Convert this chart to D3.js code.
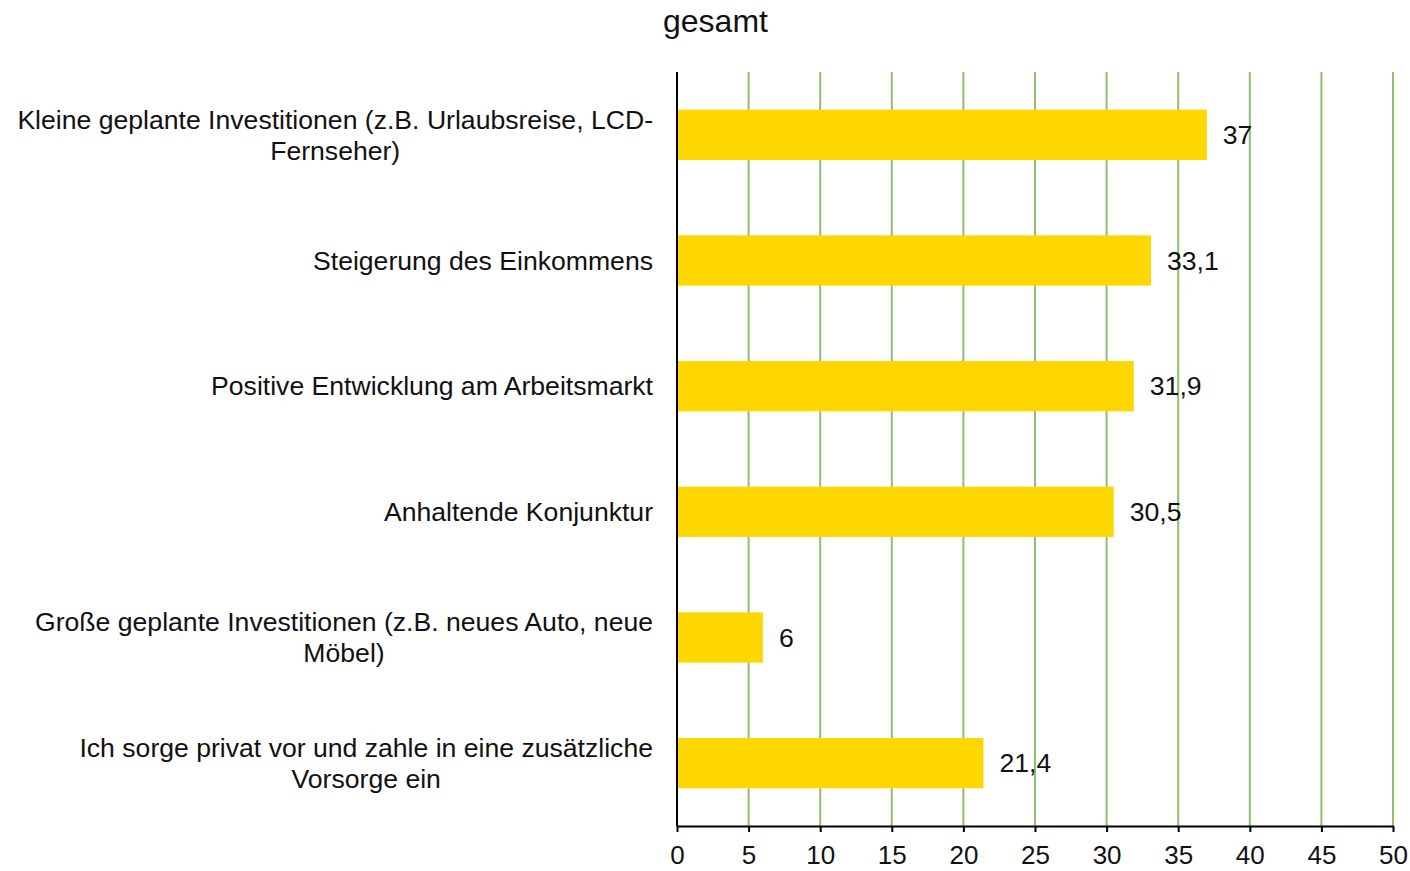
<!DOCTYPE html>
<html lang="de">
<head>
<meta charset="utf-8">
<title>gesamt</title>
<script src="https://d3js.org/d3.v7.min.js"></script>
<style>
  body { margin: 0; background: #fff; font-family: "Liberation Sans", Arial, sans-serif; }
  svg text { fill: #111; }
</style>
</head>
<body>
<div id="chart"></div>
<script>
const w = 1410;
const h = 871;

const categories = [
  ["Kleine geplante Investitionen (z.B. Urlaubsreise, LCD-", "Fernseher)"],
  ["Steigerung des Einkommens"],
  ["Positive Entwicklung am Arbeitsmarkt"],
  ["Anhaltende Konjunktur"],
  ["Große geplante Investitionen (z.B. neues Auto, neue", "Möbel)"],
  ["Ich sorge privat vor und zahle in eine zusätzliche", "Vorsorge ein"]
];
const values = [37, 33.1, 31.9, 30.5, 6, 21.4];
const tickValues = [0, 5, 10, 15, 20, 25, 30, 35, 40, 45, 50];

const margin = {left: 677, right: 17, top: 72, bottom: 45};
const fs = 26.6;

const svg = d3.select('#chart').append('svg')
  .attr('width', w).attr('height', h);

const x = d3.scaleLinear().domain([0, 50]).range([margin.left, w - margin.right]);
const y = d3.scaleBand().domain(d3.range(values.length))
  .range([margin.top, h - margin.bottom])
  .paddingInner(0.6).paddingOuter(0.3);

// title
svg.append('text')
  .attr('x', 663).attr('y', 32)
  .attr('font-size', 32)
  .text('gesamt');

// grid lines
svg.append('g').selectAll('line')
  .data(tickValues.slice(1))
  .enter().append('line')
  .attr('x1', d => x(d)).attr('x2', d => x(d))
  .attr('y1', margin.top).attr('y2', h - margin.bottom)
  .attr('stroke', '#8fbf72').attr('stroke-width', 2);

// bars
svg.append('g').selectAll('rect')
  .data(values)
  .enter().append('rect')
  .attr('x', x(0))
  .attr('y', (d, i) => y(i))
  .attr('width', d => x(d) - x(0))
  .attr('height', y.bandwidth())
  .attr('fill', '#ffd700');

// value labels
svg.append('g').selectAll('text')
  .data(values)
  .enter().append('text')
  .attr('x', d => x(d) + 16)
  .attr('y', (d, i) => y(i) + y.bandwidth() / 2)
  .attr('dy', '0.35em')
  .attr('font-size', fs)
  .text(d => String(d).replace('.', ','));

// x axis
const xAxis = svg.append('g')
  .attr('transform', 'translate(0,' + (h - margin.bottom) + ')')
  .call(d3.axisBottom(x).tickValues(tickValues).tickSize(6).tickPadding(14).tickSizeOuter(0));
xAxis.select('.domain').attr('stroke', '#000').attr('stroke-width', 2);
xAxis.selectAll('.tick line').attr('stroke', '#000').attr('stroke-width', 2);
xAxis.selectAll('.tick text')
  .attr('font-size', 26)
  .attr('font-family', '"Liberation Sans", Arial, sans-serif')
  .attr('fill', '#111');

// y axis line
svg.append('line')
  .attr('x1', x(0)).attr('x2', x(0))
  .attr('y1', margin.top).attr('y2', h - margin.bottom)
  .attr('stroke', '#000').attr('stroke-width', 2);

// category labels: right-aligned block, lines centred inside it
const labelRight = 653;
const lineH = 31;
const labels = svg.append('g');
categories.forEach(function(lines, i) {
  const g = labels.append('g');
  const texts = lines.map(function(l, j) {
    return g.append('text')
      .attr('font-size', fs)
      .attr('text-anchor', 'middle')
      .attr('y', y(i) + y.bandwidth() / 2 + (j - (lines.length - 1) / 2) * lineH)
      .attr('dy', '0.35em')
      .text(l);
  });
  const maxW = d3.max(texts, t => t.node().getComputedTextLength());
  texts.forEach(t => t.attr('x', labelRight - maxW / 2));
});
</script>
</body>
</html>
